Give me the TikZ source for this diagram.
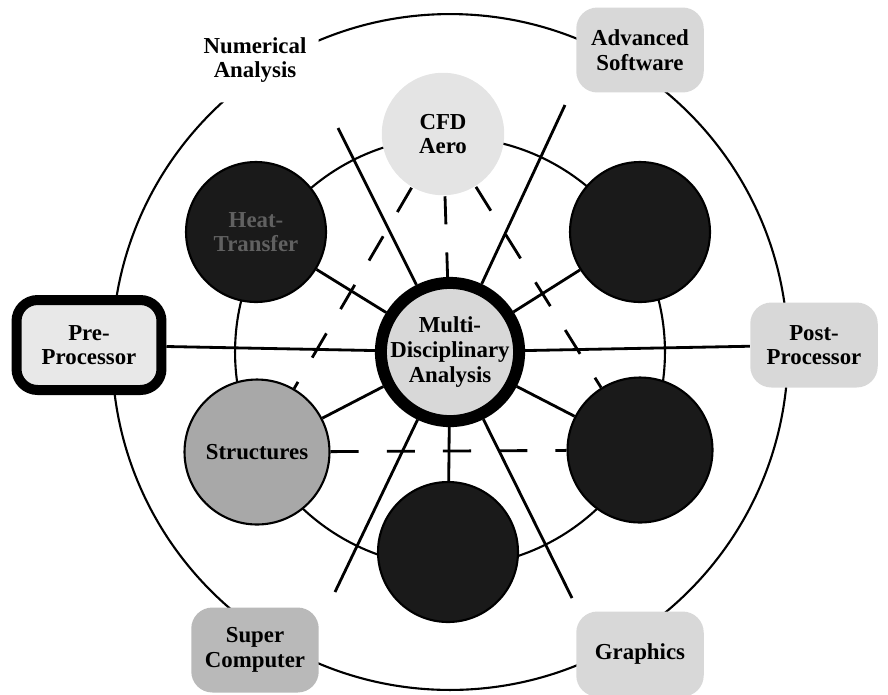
\documentclass[tikz,border=0pt]{standalone}
\usepackage{fontspec}
\setmainfont{Liberation Serif}
\usetikzlibrary{positioning, backgrounds}
\definecolor{tinta}{HTML}{000000}
\definecolor{punteado}{HTML}{D8D8D8}
\definecolor{medio}{HTML}{8A8A8A}
\definecolor{oscuro}{HTML}{1A1A1A}
\definecolor{gris}{HTML}{A8A8A8}

\begin{document}
\begin{tikzpicture}[x=0.02cm, y=-0.02cm,
				txt/.style={font=\fontsize{13}{14}\selectfont\bfseries, align=center},
				disco/.style={circle, draw=tinta, line width=1.2pt, minimum size=2.8cm, inner sep=0pt, txt},
				caja/.style={rounded corners=12pt, minimum width=2.55cm, minimum height=1.7cm, inner sep=2pt, txt},
				radio/.style={tinta, line width=1.6pt},
				discont/.style={tinta, line width=1.6pt, dash pattern=on 16pt off 16pt}]
				\useasboundingbox (0,0) rectangle (888,694);
				% centro
				\node[circle, draw=tinta, line width=0.24cm, fill=punteado, minimum size=2.36cm, inner sep=0pt, txt] (mda) at (450,352) {Multi-\\Disciplinary\\Analysis};
				% discos
				\node[disco, fill=punteado!70, draw=none, minimum size=2.45cm] (cfd) at (443,134) {CFD\\Aero};
				\node[disco, fill=oscuro, text=medio!70!black] (calor) at (256,232) {Heat-\\Transfer};
				\node[disco, fill=oscuro] (dsup) at (640,232) {};
				\node[disco, fill=gris, minimum size=2.9cm] (estr) at (257,452) {Structures};
				\node[disco, fill=oscuro, minimum size=2.9cm] (dinf) at (640,450) {};
				\node[disco, fill=oscuro] (dbaj) at (448,552) {};
				% cajas
				\node[caja, fill=white] (num) at (255,60) {Numerical\\Analysis};
				\node[caja, fill=punteado] (soft) at (640,50) {Advanced\\Software};
				\node[caja, fill=punteado] (post) at (814,345) {Post-\\Processor};
				\node[caja, fill=punteado] (graf) at (640,654) {Graphics};
				\node[caja, fill=gris!80] (comp) at (255,650) {Super\\Computer};
				\node[caja, draw=tinta, line width=0.2cm, fill=punteado!60, minimum width=2.9cm, minimum height=1.8cm] (pre) at (89,345) {Pre-\\Processor};
				\coordinate (fnum) at (338,128);
				\coordinate (fsoft) at (565,105);
				\coordinate (fcomp) at (335,592);
				\coordinate (fgraf) at (572,598);
				\begin{pgfonlayer}{background}
					\draw[tinta, line width=1.2pt] (mda.center) circle (6.76cm);
					\draw[tinta, line width=1.2pt] (mda.center) circle (4.3cm);
					\draw[radio] (mda) -- (fnum);
					\draw[radio] (mda) -- (fsoft);
					\draw[radio] (mda) -- (fcomp);
					\draw[radio] (mda) -- (fgraf);
					\draw[radio] (mda) -- (pre);
					\draw[radio] (mda) -- (post);
					\draw[radio] (mda) -- (calor);
					\draw[radio] (mda) -- (dsup);
					\draw[radio] (mda) -- (estr);
					\draw[radio] (mda) -- (dinf);
					\draw[radio] (mda) -- (dbaj);
					\draw[discont] (cfd) -- (mda);
					\draw[discont] (cfd) -- (estr);
					\draw[discont] (cfd) -- (dinf);
					\draw[discont] (estr) -- (dinf);
				\end{pgfonlayer}
			\end{tikzpicture}
\end{document}
